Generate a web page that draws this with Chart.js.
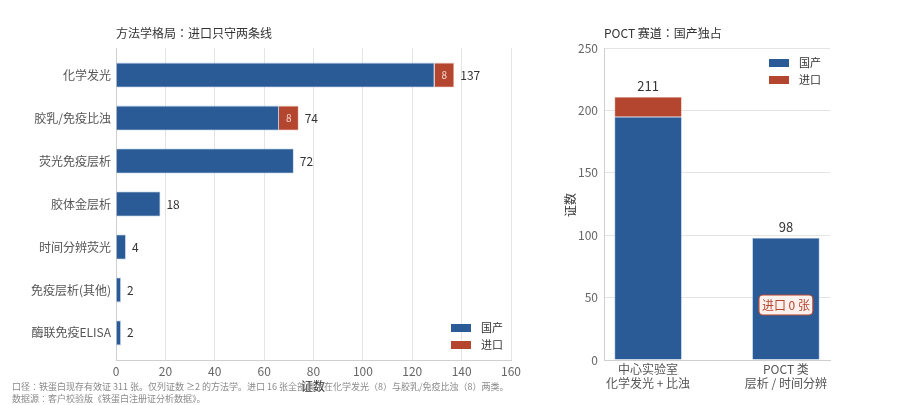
<!DOCTYPE html>
<html>
<head>
<meta charset="utf-8">
<script src="https://cdn.jsdelivr.net/npm/chart.js@4.4.1/dist/chart.umd.min.js"></script>
<style>
  body { margin: 0; background: #fff; width: 922px; height: 405px; position: relative; overflow: hidden; }
  #left { position: absolute; left: 0; top: 0; }
  #right { position: absolute; left: 540px; top: 0; }
  .note { position: absolute; left: 12px; font: 9px "Noto Sans CJK JP", sans-serif; line-height: 12px; color: #8a8a8a; white-space: nowrap; }
</style>
</head>
<body>
<canvas id="left" width="540" height="405" style="width:540px;height:405px"></canvas>
<canvas id="right" width="382" height="405" style="width:382px;height:405px"></canvas>
<div class="note" style="top:381px">口径：铁蛋白现存有效证 311 张。仅列证数 ≥2 的方法学。进口 16 张全部集中在化学发光（8）与胶乳/免疫比浊（8）两类。</div>
<div class="note" style="top:393px">数据源：客户校验版《铁蛋白注册证分析数据》。</div>
<script>
// left chart: methods
const methods = ['化学发光', '胶乳/免疫比浊', '荧光免疫层析', '胶体金层析', '时间分辨荧光', '免疫层析(其他)', '酶联免疫ELISA'];
const methodDomestic = [129, 66, 72, 18, 4, 2, 2];
const methodImport = [8, 8, 0, 0, 0, 0, 0];
const xTicksLeft = [0, 20, 40, 60, 80, 100, 120, 140, 160];

// right chart: lab vs POCT
const tracks = [['中心实验室', '化学发光 + 比浊'], ['POCT 类', '层析 / 时间分辨']];
const trackDomestic = [195, 98];
const trackImport = [16, 0];
const yTicksRight = [0, 50, 100, 150, 200, 250];

const BLUE = '#2b5b97';
const RED = '#b4452f';
const FONT = '"Noto Sans CJK JP", "Noto Sans", sans-serif';
const GRID = '#e6e4e1';

function drawLegend(ctx, x, y) {
    ctx.font = '11px ' + FONT;
    ctx.textBaseline = 'middle';
    ctx.textAlign = 'left';
    [['国产', BLUE], ['进口', RED]].forEach((item, i) => {
        ctx.fillStyle = item[1];
        ctx.fillRect(x, y + i * 17 - 4, 20, 8);
        ctx.fillStyle = '#333';
        ctx.fillText(item[0], x + 30, y + i * 17);
    });
}

const leftDecor = {
    id: 'leftDecor',
    afterDatasetsDraw(chart) {
        const ctx = chart.ctx;
        const xs = chart.scales.x, ys = chart.scales.y;
        ctx.save();
        ctx.textBaseline = 'middle';
        methods.forEach((m, i) => {
            const total = methodDomestic[i] + methodImport[i];
            const py = ys.getPixelForValue(i);
            ctx.fillStyle = '#333';
            ctx.font = '12px ' + FONT;
            ctx.textAlign = 'left';
            ctx.fillText(total, xs.getPixelForValue(total) + 6, py);
            if (methodImport[i] > 0) {
                const cx = xs.getPixelForValue(methodDomestic[i] + methodImport[i] / 2);
                ctx.fillStyle = '#f6d6cd';
                ctx.font = '10px ' + FONT;
                ctx.textAlign = 'center';
                ctx.fillText(methodImport[i], cx, py);
            }
        });
        // title
        ctx.fillStyle = '#333';
        ctx.font = '12px ' + FONT;
        ctx.textAlign = 'left';
        ctx.fillText('方法学格局：进口只守两条线', 116, 33);
        // axis title
        ctx.textAlign = 'center';
        ctx.fillText('证数', 313, 386);
        drawLegend(ctx, 451, 328);
        ctx.restore();
    }
};

new Chart(document.getElementById('left'), {
    type: 'bar',
    data: {
        datasets: [
            {
                label: '国产',
                data: methodDomestic.map((v, i) => ({ x: v, y: i })),
                backgroundColor: BLUE,
                borderColor: 'rgba(170,195,225,0.9)',
                borderWidth: 0.8
            },
            {
                label: '进口',
                data: methodImport.map((v, i) => ({ x: v, y: i })),
                backgroundColor: RED,
                borderColor: 'rgba(235,190,180,0.9)',
                borderWidth: 0.8
            }
        ]
    },
    options: {
        indexAxis: 'y',
        responsive: false,
        animation: false,
        devicePixelRatio: 1,
        categoryPercentage: 0.58,
        barPercentage: 1,
        layout: { padding: { left: 0, right: 29, top: 48, bottom: 15 } },
        plugins: { legend: { display: false }, tooltip: { enabled: false } },
        scales: {
            x: {
                type: 'linear',
                stacked: true,
                min: 0,
                max: 160,
                afterBuildTicks: s => { s.ticks = xTicksLeft.map(v => ({ value: v })); },
                afterFit: s => { s.height = 30; },
                grid: { color: GRID, drawTicks: false },
                border: { color: '#cfcfcf' },
                ticks: { color: '#666', font: { family: FONT, size: 12 }, padding: 4 }
            },
            y: {
                type: 'linear',
                stacked: true,
                reverse: true,
                offset: false,
                min: -0.63,
                max: 6.63,
                afterBuildTicks: s => { s.ticks = methods.map((_, i) => ({ value: i })); },
                afterFit: s => { s.width = 116; },
                grid: { display: false, drawTicks: false, offset: false },
                border: { color: '#cfcfcf' },
                ticks: {
                    color: '#555',
                    font: { family: FONT, size: 12 },
                    padding: 5,
                    callback: v => methods[v]
                }
            }
        }
    },
    plugins: [leftDecor]
});

const rightDecor = {
    id: 'rightDecor',
    afterDatasetsDraw(chart) {
        const ctx = chart.ctx;
        const xs = chart.scales.x, ys = chart.scales.y;
        ctx.save();
        ctx.textBaseline = 'middle';
        ctx.textAlign = 'center';
        tracks.forEach((t, i) => {
            const total = trackDomestic[i] + trackImport[i];
            ctx.fillStyle = '#333';
            ctx.font = '13px ' + FONT;
            ctx.fillText(total, xs.getPixelForValue(i), ys.getPixelForValue(total) - 11);
        });
        // no-import badge on POCT bar
        const bx = xs.getPixelForValue(1), by = 305;
        const bw = 54, bh = 20;
        ctx.beginPath();
        ctx.roundRect(bx - bw / 2, by - bh / 2, bw, bh, 4);
        ctx.fillStyle = '#fdf1ed';
        ctx.fill();
        ctx.lineWidth = 1.2;
        ctx.strokeStyle = RED;
        ctx.stroke();
        ctx.fillStyle = RED;
        ctx.font = '12px ' + FONT;
        ctx.fillText('进口 0 张', bx, by);
        // title
        ctx.fillStyle = '#333';
        ctx.font = '12px ' + FONT;
        ctx.textAlign = 'left';
        ctx.fillText('POCT 赛道：国产独占', 64, 33);
        // y axis title
        ctx.translate(30, 205);
        ctx.rotate(-Math.PI / 2);
        ctx.textAlign = 'center';
        ctx.fillText('证数', 0, 0);
        ctx.setTransform(1, 0, 0, 1, 0, 0);
        drawLegend(ctx, 229, 63);
        ctx.restore();
    }
};

new Chart(document.getElementById('right'), {
    type: 'bar',
    data: {
        datasets: [
            {
                label: '国产',
                data: trackDomestic.map((v, i) => ({ x: i, y: v })),
                backgroundColor: BLUE,
                borderColor: 'rgba(170,195,225,0.9)',
                borderWidth: 0.8
            },
            {
                label: '进口',
                data: trackImport.map((v, i) => ({ x: i, y: v })),
                backgroundColor: RED,
                borderColor: 'rgba(235,190,180,0.9)',
                borderWidth: 0.8
            }
        ]
    },
    options: {
        responsive: false,
        animation: false,
        devicePixelRatio: 1,
        categoryPercentage: 0.49,
        barPercentage: 1,
        layout: { padding: { left: 0, right: 92, top: 48, bottom: 10 } },
        plugins: { legend: { display: false }, tooltip: { enabled: false } },
        scales: {
            x: {
                type: 'linear',
                stacked: true,
                offset: false,
                min: -0.32,
                max: 1.32,
                afterBuildTicks: s => { s.ticks = tracks.map((_, i) => ({ value: i })); },
                afterFit: s => { s.height = 35; },
                grid: { display: false, drawTicks: false, offset: false },
                border: { color: '#cfcfcf' },
                ticks: {
                    color: '#555',
                    font: { family: FONT, size: 12, lineHeight: 1.2 },
                    padding: 2,
                    maxRotation: 0,
                    callback: v => tracks[v]
                }
            },
            y: {
                stacked: true,
                min: 0,
                max: 250,
                afterBuildTicks: s => { s.ticks = yTicksRight.map(v => ({ value: v })); },
                afterFit: s => { s.width = 64; },
                grid: { color: GRID, drawTicks: false },
                border: { color: '#cfcfcf' },
                ticks: { color: '#666', font: { family: FONT, size: 12 }, padding: 6 }
            }
        }
    },
    plugins: [rightDecor]
});
</script>
</body>
</html>
